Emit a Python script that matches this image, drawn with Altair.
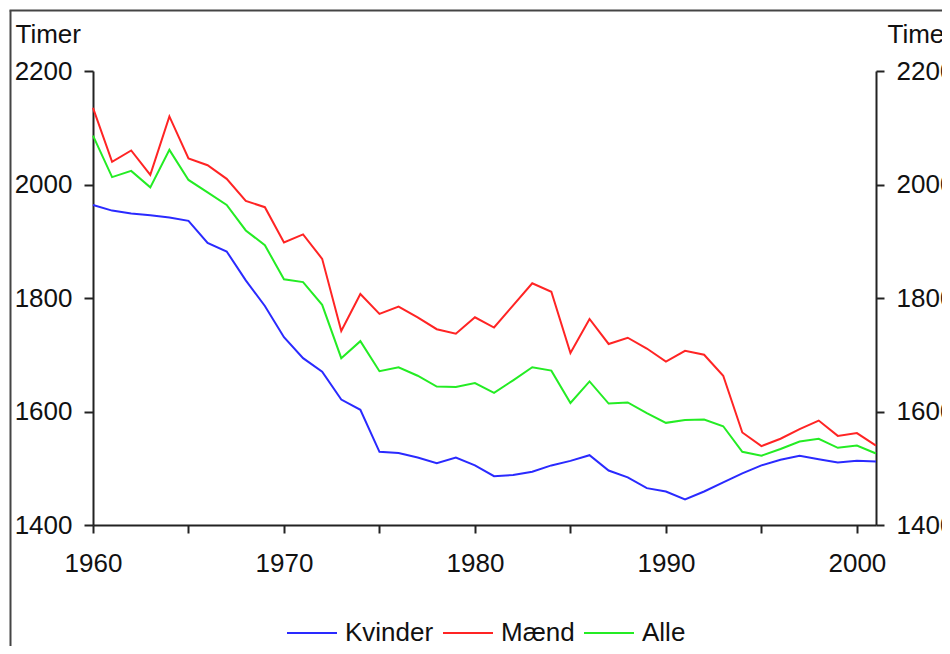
import altair as alt
import pandas as pd

years = list(range(1960, 2002))
kvinder = [1964, 1954, 1949, 1946, 1942, 1936, 1897, 1882, 1831, 1786,
           1731, 1694, 1670, 1621, 1603, 1529, 1527, 1519, 1509, 1519,
           1505, 1486, 1488, 1494, 1505, 1513, 1523, 1496, 1484, 1465,
           1459, 1445, 1459, 1475, 1491, 1505, 1515, 1522, 1516, 1510,
           1513, 1512]
maend = [2135, 2040, 2060, 2017, 2120, 2046, 2034, 2010, 1971, 1960,
         1898, 1912, 1869, 1742, 1807, 1772, 1785, 1766, 1745, 1737,
         1766, 1748, 1787, 1826, 1811, 1703, 1763, 1719, 1730, 1711,
         1688, 1707, 1700, 1663, 1563, 1539, 1552, 1569, 1584, 1557,
         1562, 1540]
alle = [2086, 2013, 2024, 1995, 2061, 2008, 1986, 1964, 1919, 1893,
        1833, 1828, 1788, 1694, 1724, 1671, 1678, 1663, 1644, 1643,
        1650, 1633, 1655, 1678, 1672, 1615, 1653, 1614, 1616, 1597,
        1580, 1585, 1586, 1574, 1529, 1522, 1534, 1547, 1552, 1536,
        1540, 1526]
series_names = ["Kvinder", "Mænd", "Alle"]
series_colors = ["#2a2aff", "#ff2424", "#24ec24"]
y_ticks = [1400, 1600, 1800, 2000, 2200]
x_ticks = list(range(1960, 2001, 5))
y_title = "Timer"

rows = []
for name, vals in zip(series_names, [kvinder, maend, alle]):
    for yr, v in zip(years, vals):
        rows.append({"year": yr, "value": v, "serie": name})
df = pd.DataFrame(rows)

FONT = "Liberation Sans"
FS = 26
INK = "#111111"
AX = "#222222"
W, H = 783, 454

xscale = alt.Scale(domain=[1960, 2001], nice=False, zero=False)
yscale = alt.Scale(domain=[1400, 2200], nice=False, zero=False)

common = dict(grid=False, labelFont=FONT, labelFontSize=FS, labelColor=INK,
              domainColor=AX, domainWidth=2, tickColor=AX, tickWidth=2,
              titleFont=FONT, titleFontSize=FS, titleColor=INK,
              titleFontWeight="normal")

x_axis = alt.Axis(orient="bottom", values=x_ticks, format="d",
                  labelExpr="datum.value % 10 == 0 ? datum.label : ''",
                  tickSize=8, labelPadding=17, title=None,
                  labelFlush=False, labelOverlap=False, **common)

left_axis = alt.Axis(orient="left", values=y_ticks, format="d", tickSize=9,
                     labelPadding=12, title=y_title, titleAngle=0,
                     titleAlign="left", titleBaseline="alphabetic",
                     titleX=-78, titleY=-29, labelFlush=False, **common)

right_axis = alt.Axis(orient="right", values=y_ticks, format="d", tickSize=8,
                      labelPadding=12, title=y_title, titleAngle=0,
                      titleAlign="left", titleBaseline="alphabetic",
                      titleX=11, titleY=-29, labelFlush=False, **common)

legend = alt.Legend(orient="none", legendX=193, legendY=536,
                    direction="horizontal", title=None, symbolType="stroke",
                    symbolSize=2500, symbolStrokeWidth=2, labelFont=FONT,
                    labelFontSize=FS, labelColor=INK, labelOffset=7,
                    columnPadding=5, padding=0)

lines = alt.Chart(df).mark_line(strokeWidth=2).encode(
    x=alt.X("year:Q", scale=xscale, axis=x_axis),
    y=alt.Y("value:Q", scale=yscale, axis=left_axis),
    color=alt.Color("serie:N",
                    scale=alt.Scale(domain=series_names, range=series_colors),
                    sort=series_names, legend=legend),
)

right = alt.Chart(df).mark_line(opacity=0).encode(
    x=alt.X("year:Q", scale=xscale, axis=x_axis),
    y=alt.Y("value:Q", scale=yscale, axis=right_axis),
    detail="serie:N",
)

dummy = pd.DataFrame({"f": [0]})
frame_left = alt.Chart(dummy).mark_rule(color="#444444", strokeWidth=2).encode(
    x=alt.value(-82.5), y=alt.value(-60.5), y2=alt.value(640))
frame_top = alt.Chart(dummy).mark_rule(color="#444444", strokeWidth=2).encode(
    x=alt.value(-83.5), x2=alt.value(880), y=alt.value(-60.5))

chart = alt.layer(lines, right, frame_left, frame_top).resolve_axis(
    y="independent"
).properties(
    width=W, height=H,
    autosize=alt.AutoSizeParams(type="none"),
    padding={"left": 85, "top": 63, "right": 66, "bottom": 121},
    background="white",
).configure_view(stroke=None)

chart.save("out.html", embed_options={"renderer": "svg", "actions": False})
